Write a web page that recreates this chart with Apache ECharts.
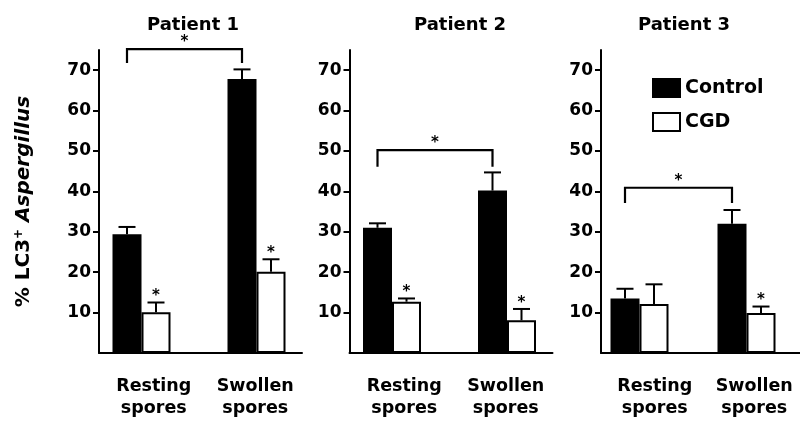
<!DOCTYPE html>
<html>
<head>
<meta charset="utf-8">
<script src="https://cdn.jsdelivr.net/npm/echarts@6/dist/echarts.min.js"></script>
<style>
  html, body { margin: 0; background: #fff; }
  #chart { width: 800px; height: 426px; }
</style>
</head>
<body>
<div id="chart"></div>
<script>
// data
const categories = ['Resting\nspores', 'Swollen\nspores'];
const patients = ['Patient 1', 'Patient 2', 'Patient 3'];
const yTicks = [10, 20, 30, 40, 50, 60, 70];
const controlValues = [[29.4, 67.8], [31.0, 40.2], [13.5, 32.0]];
const controlErrors = [[31.2, 70.2], [32.1, 44.7], [15.9, 35.4]];
const cgdValues = [[10.1, 20.1], [12.7, 8.1], [12.1, 9.9]];
const cgdErrors = [[12.5, 23.2], [13.5, 10.9], [17.0, 11.5]];
const cgdStars = [[1, 1], [1, 1], [0, 1]];
const bracketTop = [75.2, 50.2, 40.9];
const bracketLeg = [71.8, 46.1, 37.1];

const FONT = 'DejaVu Sans';
const BAR_W = 29;
const CAP_W = 17;
const axisLeft = [99, 349.5, 601];
const titleX = [188, 455, 679];

const chart = echarts.init(document.getElementById('chart'));

function errorItem(params, api) {
  const cat = api.value(0);
  const top = api.coord([cat, api.value(1)]);
  const base = api.coord([cat, api.value(2)]);
  const x = top[0] + api.value(3) * BAR_W / 2;
  const line = { stroke: '#000', lineWidth: 2 };
  const children = [
    { type: 'line', shape: { x1: x, y1: base[1], x2: x, y2: top[1] }, style: line },
    { type: 'line', shape: { x1: x - CAP_W / 2, y1: top[1], x2: x + CAP_W / 2, y2: top[1] }, style: line }
  ];
  if (api.value(4)) {
    children.push({
      type: 'text', x: x, y: top[1] - 6,
      style: { text: '*', fill: '#000', font: 'bold 15px "' + FONT + '"', align: 'center', verticalAlign: 'middle' }
    });
  }
  return { type: 'group', children };
}

function bracketItem(params, api) {
  const a = api.coord([api.value(0), api.value(2)]);
  const b = api.coord([api.value(1), api.value(2)]);
  const leg = api.coord([api.value(0), api.value(3)])[1];
  const x0 = a[0] - BAR_W / 2, x1 = b[0] - BAR_W / 2, y = a[1];
  return {
    type: 'group',
    children: [
      { type: 'polyline', shape: { points: [[x0, leg], [x0, y], [x1, y], [x1, leg]] },
        style: { stroke: '#000', lineWidth: 2.2, fill: null } },
      { type: 'text', x: (x0 + x1) / 2, y: y - 7,
        style: { text: '*', fill: '#000', font: 'bold 15px "' + FONT + '"', align: 'center', verticalAlign: 'middle' } }
    ]
  };
}

const grid = [], xAxis = [], yAxis = [], series = [], title = [];

patients.forEach((name, p) => {
  title.push({
    text: name, left: titleX[p], top: 11, textAlign: 'center',
    textStyle: { fontFamily: FONT, fontSize: 18, fontWeight: 'bold', color: '#000' }
  });

  // grid carrying the visible axes
  grid.push({ left: axisLeft[p], width: 203, top: 50, bottom: 73 });
  xAxis.push({
    type: 'category', gridIndex: 2 * p, data: categories,
    axisLine: { lineStyle: { color: '#000', width: 2 } },
    axisTick: { show: false },
    axisLabel: {
      interval: 0, showMinLabel: true, showMaxLabel: true, hideOverlap: false,
      margin: 22, padding: [0, 0, 0, 8], color: '#000', fontFamily: FONT, fontSize: 17.5, fontWeight: 'bold', lineHeight: 22
    }
  });
  const y = {
    type: 'value', gridIndex: 2 * p, min: 0, max: 75,
    splitLine: { show: false },
    axisLine: { show: true, lineStyle: { color: '#000', width: 2 } },
    axisTick: { show: true, length: 6, customValues: yTicks, lineStyle: { color: '#000', width: 2 } },
    axisLabel: { customValues: yTicks, margin: 8, color: '#000', fontFamily: FONT, fontSize: 17, fontWeight: 'bold' }
  };
  if (p === 0) {
    y.name = '{a|% LC3}{s|+}{a| }{i|Aspergillus}';
    y.nameLocation = 'middle';
    y.nameRotate = 90;
    y.nameGap = 64;
    y.nameTextStyle = {
      rich: {
        a: { fontFamily: FONT, fontSize: 20, fontWeight: 'bold', color: '#000', lineHeight: 22 },
        s: { fontFamily: FONT, fontSize: 12, fontWeight: 'bold', color: '#000', lineHeight: 12, verticalAlign: 'top' },
        i: { fontFamily: FONT, fontSize: 20, fontWeight: 'bold', fontStyle: 'italic', color: '#000', lineHeight: 22 }
      }
    };
  }
  yAxis.push(y);

  // grid carrying the bars
  grid.push({ left: axisLeft[p] - 15, width: 230, top: 50, bottom: 73 });
  xAxis.push({ type: 'category', gridIndex: 2 * p + 1, data: categories, show: false });
  yAxis.push({ type: 'value', gridIndex: 2 * p + 1, min: 0, max: 75, show: false });

  const bx = 2 * p + 1;
  series.push({
    name: 'Control', type: 'bar', xAxisIndex: bx, yAxisIndex: bx,
    barWidth: BAR_W, barGap: '0%', data: controlValues[p],
    itemStyle: { color: '#000', borderColor: '#000', borderWidth: 2 }
  });
  series.push({
    name: 'CGD', type: 'bar', xAxisIndex: bx, yAxisIndex: bx,
    barWidth: BAR_W, barGap: '0%', data: cgdValues[p],
    itemStyle: { color: '#fff', borderColor: '#000', borderWidth: 2 }
  });
  const errData = [];
  categories.forEach((c, i) => {
    errData.push([i, controlErrors[p][i], controlValues[p][i], -1, 0]);
    errData.push([i, cgdErrors[p][i], cgdValues[p][i], 1, cgdStars[p][i]]);
  });
  series.push({
    type: 'custom', xAxisIndex: bx, yAxisIndex: bx, z: 3, clip: false,
    renderItem: errorItem, data: errData, silent: true
  });
  series.push({
    type: 'custom', xAxisIndex: bx, yAxisIndex: bx, z: 3, clip: false,
    renderItem: bracketItem, data: [[0, 1, bracketTop[p], bracketLeg[p]]], silent: true
  });
});

chart.setOption({
  backgroundColor: '#fff',
  animation: false,
  title,
  legend: {
    data: ['Control', 'CGD'], orient: 'vertical', left: 647, top: 73,
    icon: 'rect', itemWidth: 27, itemHeight: 18, itemGap: 14,
    textStyle: { fontFamily: FONT, fontSize: 19, fontWeight: 'bold', color: '#000', lineHeight: 18 }
  },
  grid, xAxis, yAxis, series
});
</script>
</body>
</html>
